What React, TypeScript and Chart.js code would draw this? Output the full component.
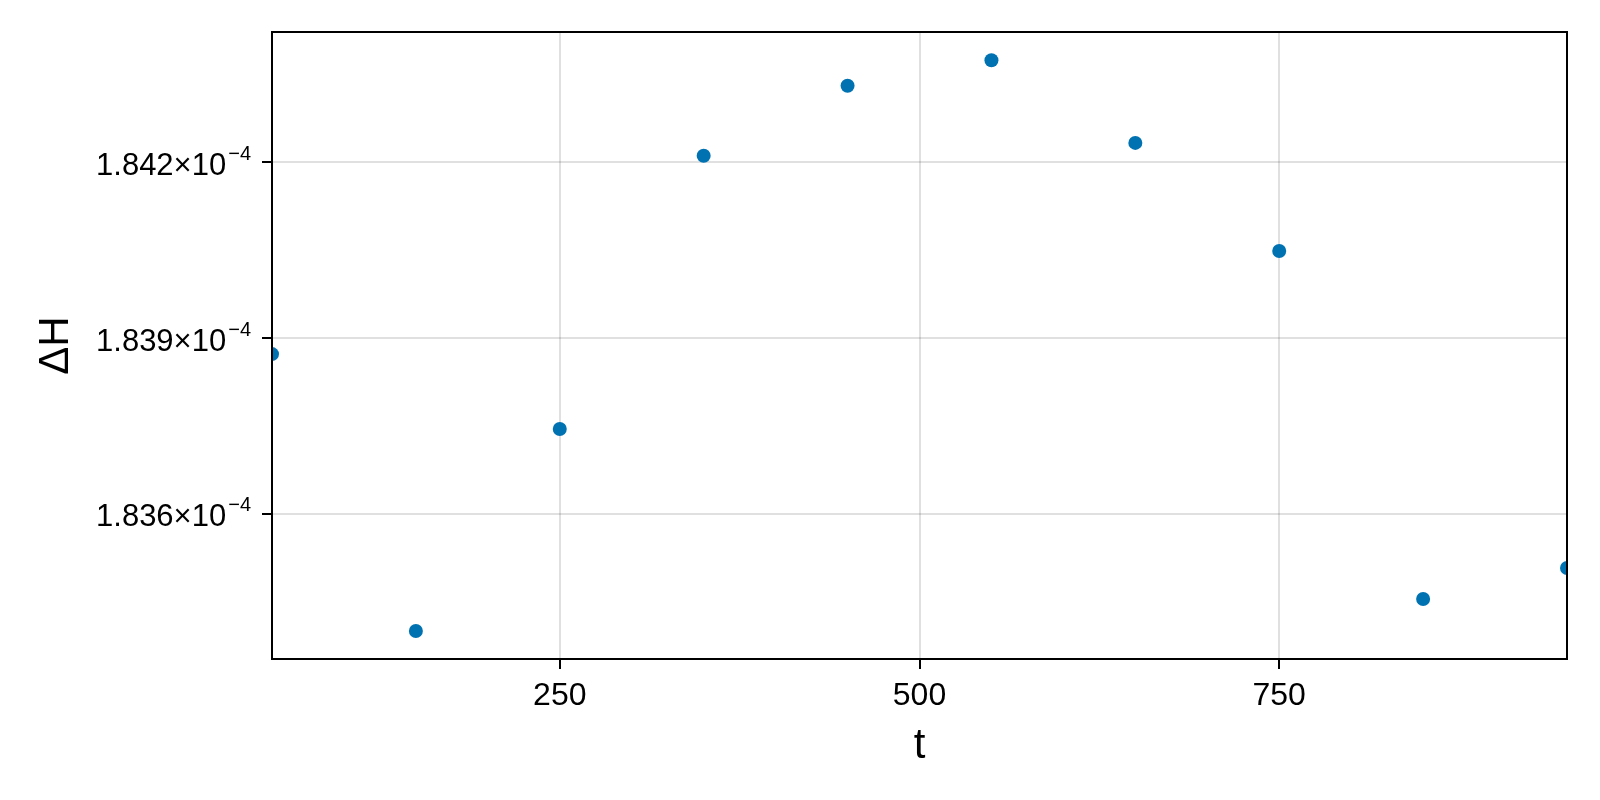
import React, { useEffect, useRef } from 'react';
import { Chart, registerables } from 'chart.js';

Chart.register(...registerables);

// tempo e diferença de energia
const tempos = [50, 150, 250, 350, 450, 550, 650, 750, 850, 950];
const deltaH = [
  1.838728e-4, 1.834004e-4, 1.83745e-4, 1.842113e-4, 1.843307e-4,
  1.843742e-4, 1.842331e-4, 1.840487e-4, 1.83455e-4, 1.835079e-4,
];
const xTicks = [250, 500, 750];
const yTicks = [1.836e-4, 1.839e-4, 1.842e-4];
const expoente = -4;

const fonte = '"Liberation Sans", "Noto Sans", sans-serif';

// mantissa do rótulo do eixo y, ex. "1.842×10"
const mantissa = (v: number) => (v / Math.pow(10, expoente)).toFixed(3) + '×10';
const sobrescrito = String(expoente).replace('-', '−');

// rótulos do eixo y com expoente elevado + moldura preta em volta da área
const moldura = {
  id: 'moldura',
  afterDraw(chart: any) {
    const { ctx, chartArea } = chart;
    const y = chart.scales.y;
    ctx.save();
    ctx.fillStyle = '#000';
    ctx.textBaseline = 'alphabetic';
    const fim = chartArea.left - 21;
    for (const t of y.ticks) {
      const py = y.getPixelForValue(t.value);
      ctx.font = `20px ${fonte}`;
      const supW = ctx.measureText(sobrescrito).width;
      ctx.textAlign = 'left';
      ctx.fillText(sobrescrito, fim - supW, py - 2.5);
      ctx.font = `31px ${fonte}`;
      ctx.textAlign = 'right';
      ctx.fillText(mantissa(t.value), fim - supW - 2, py + 12.5);
    }
    ctx.strokeStyle = '#000';
    ctx.lineWidth = 2;
    ctx.strokeRect(chartArea.left, chartArea.top, chartArea.right - chartArea.left, chartArea.bottom - chartArea.top);
    ctx.restore();
  },
};

export default function App() {
  const canvasRef = useRef<HTMLCanvasElement | null>(null);

  useEffect(() => {
    const ctx = canvasRef.current;
    if (!ctx) {
      return;
    }

    const chart = new Chart(ctx, {
      type: 'scatter',
      data: {
        datasets: [{
          label: 'ΔH',
          data: tempos.map((t, i) => ({ x: t, y: deltaH[i] })),
          backgroundColor: '#0072B2',
          borderWidth: 0,
          pointRadius: 7,
          clip: 0,
        }],
      },
      options: {
        animation: false,
        responsive: true,
        maintainAspectRatio: false,
        layout: { padding: { top: 32, right: 33, left: 0, bottom: 0 } },
        plugins: { legend: { display: false }, tooltip: { enabled: false } },
        scales: {
          x: {
            type: 'linear',
            min: 50,
            max: 950,
            afterBuildTicks: (scale: any) => {
              scale.ticks = xTicks.map((v) => ({ value: v }));
            },
            afterFit: (scale: any) => {
              scale.height = 141;
            },
            border: { display: false },
            grid: {
              color: 'rgba(0,0,0,0.12)',
              lineWidth: 2,
              tickColor: '#000',
              tickWidth: 2,
              tickLength: 10,
            },
            ticks: {
              color: '#000',
              padding: 8,
              maxRotation: 0,
              font: { family: fonte, size: 32 },
            },
            title: {
              display: true,
              text: 't',
              color: '#000',
              font: { family: fonte, size: 42 },
              padding: { top: 0, bottom: 28 },
            },
          },
          y: {
            type: 'linear',
            min: 1.833526e-4,
            max: 1.844223e-4,
            afterBuildTicks: (scale: any) => {
              scale.ticks = yTicks.map((v) => ({ value: v }));
            },
            afterFit: (scale: any) => {
              scale.width = 272;
            },
            border: { display: false },
            grid: {
              color: 'rgba(0,0,0,0.12)',
              lineWidth: 2,
              tickColor: '#000',
              tickWidth: 2,
              tickLength: 10,
            },
            ticks: {
              display: false,
              callback: (value: any) => mantissa(Number(value)) + sobrescrito,
            },
            title: {
              display: true,
              text: 'ΔH',
              color: '#000',
              font: { family: fonte, size: 42 },
              padding: { top: 31, bottom: 0 },
            },
          },
        },
      },
      plugins: [moldura],
    });

    return () => {
      chart.destroy();
    };
  }, []);

  return (
    <div style={{ position: 'fixed', left: 0, top: 0, width: 1600, height: 800, background: '#fff' }}>
      <canvas ref={canvasRef}></canvas>
    </div>
  );
}
